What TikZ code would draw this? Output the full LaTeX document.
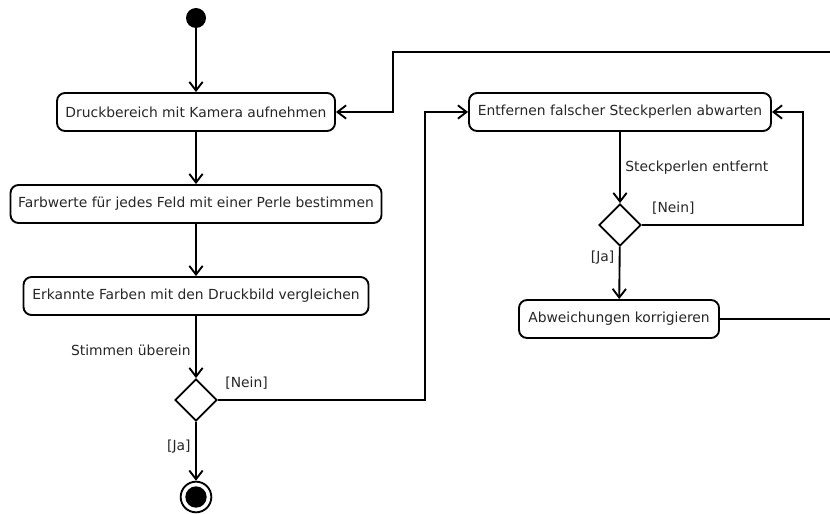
\documentclass[tikz,border=0pt]{standalone}
\usepackage{fontspec}
\setmainfont{DejaVu Sans}
\usetikzlibrary{shapes.geometric,arrows.meta}

\begin{document}
\begin{tikzpicture}[
			x=0.75pt, y=-0.75pt,
			action/.style = {draw, rounded corners=6pt, line width=1.4pt, minimum height=28.5pt, inner sep=2pt, font=\fontsize{10.4}{12}\selectfont, text=black!85},
			decision/.style = {diamond, draw, line width=1.4pt, minimum width=31.5pt, minimum height=31.5pt, inner sep=0pt},
			startnode/.style = {circle, fill=black, minimum size=15pt, inner sep=0pt},
			endnode/.style = {circle, draw, line width=1.4pt, minimum size=23pt, inner sep=0pt},
			flow/.style = {draw, line width=1.4pt, -{Straight Barb[length=6.5pt, width=10pt, line width=1.4pt]}},
			guard/.style = {font=\fontsize{10.4}{12}\selectfont, text=black!85}
			]
			\useasboundingbox (0,0) rectangle (830,513);
			\clip (0,0) rectangle (830,513);
			% linke Spalte
			\node[startnode] (start) at (196,18) {};
			\node[action, minimum width=208.5pt] (aufnehmen) at (196,112) {Druckbereich mit Kamera aufnehmen};
			\node[action, minimum width=278.25pt] (farbwerte) at (196,204) {Farbwerte für jedes Feld mit einer Perle bestimmen};
			\node[action, minimum width=258.75pt] (vergleich) at (196,296) {Erkannte Farben mit den Druckbild vergleichen};
			\node[decision] (pruefung) at (196,400) {};
			\node[endnode] (ende) at (196,497) {};
			\fill (ende) circle (8pt);
			% rechte Spalte
			\node[action, minimum width=226.5pt] (abwarten) at (620,112) {Entfernen falscher Steckperlen abwarten};
			\node[decision] (kontrolle) at (620,225) {};
			\node[action, minimum width=150pt] (korrigieren) at (619,319) {Abweichungen korrigieren};
			% Knickpunkte
			\coordinate (knickA) at (425,400);
			\coordinate (knickB) at (803,225);
			\coordinate (randR) at (845,319);
			\coordinate (rueck) at (393,52);
			% Kanten
			\draw[flow] (start) -- (aufnehmen);
			\draw[flow] (aufnehmen) -- (farbwerte);
			\draw[flow] (farbwerte) -- (vergleich);
			\draw[flow] (vergleich) -- node[guard, left, pos=0.55] {Stimmen überein} (pruefung);
			\draw[flow] (pruefung) -- node[guard, left, pos=0.42] {[Ja]} (ende);
			\draw[flow] (pruefung.east) -- node[guard, above right, pos=0.01, yshift=4pt] {[Nein]} (knickA) |- (abwarten.west);
			\draw[flow] (abwarten) -- node[guard, right, pos=0.5] {Steckperlen entfernt} (kontrolle);
			\draw[flow] (kontrolle.east) -- node[guard, above right, pos=0.03, yshift=4pt] {[Nein]} (knickB) |- (abwarten.east);
			\draw[flow] (kontrolle) -- node[guard, left, pos=0.2] {[Ja]} (korrigieren);
			\draw[flow] (korrigieren.east) -- (randR) |- (rueck) |- (aufnehmen.east);
		\end{tikzpicture}
\end{document}
